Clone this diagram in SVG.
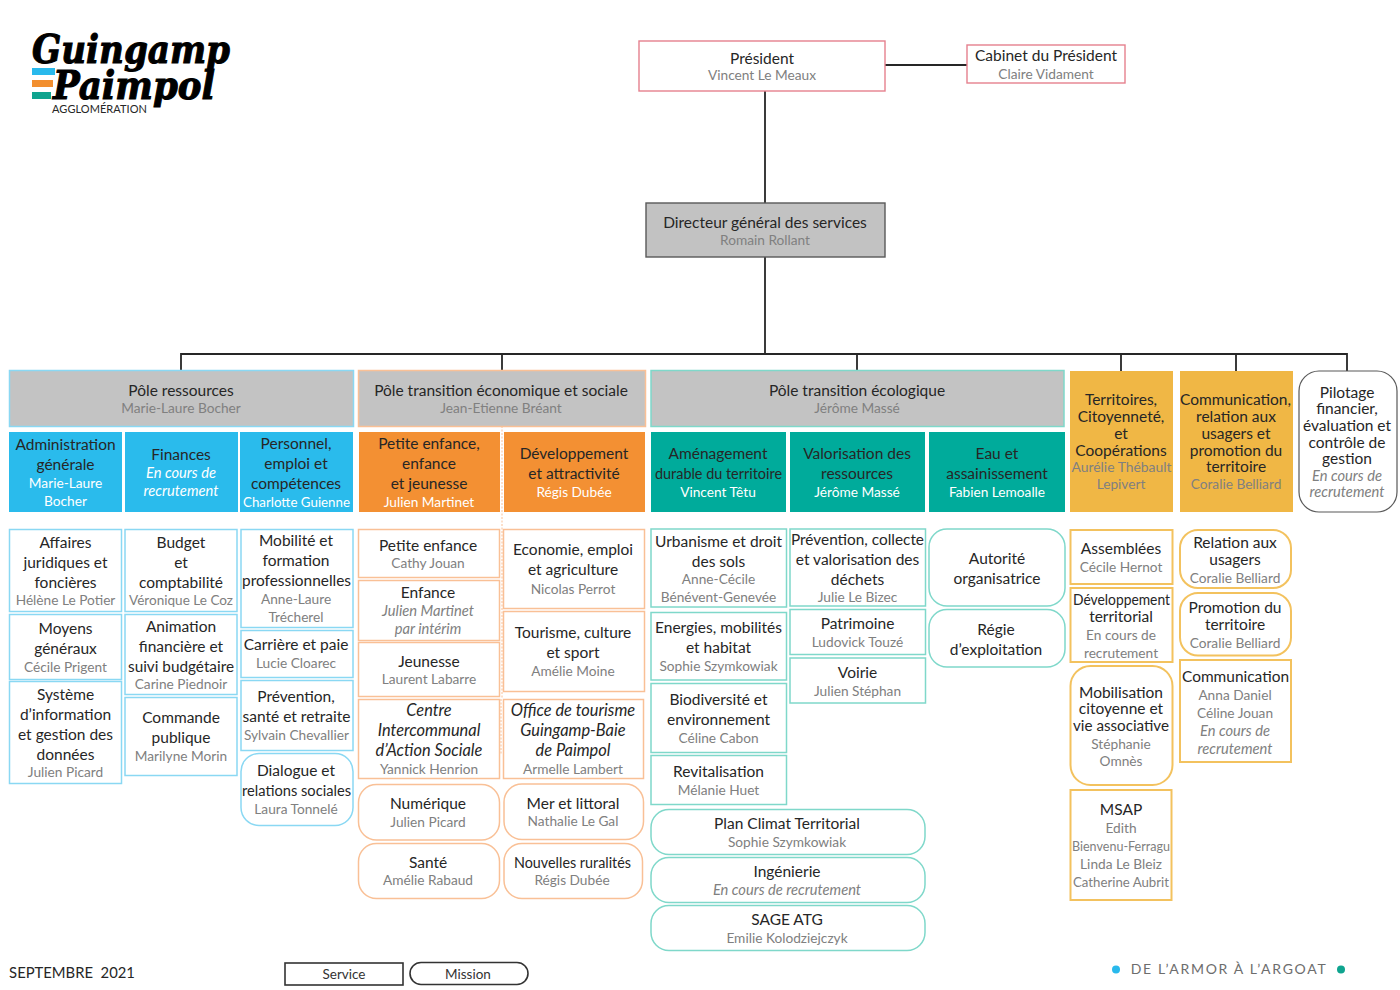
<svg xmlns="http://www.w3.org/2000/svg" width="1400" height="990" viewBox="0 0 1400 990">
<style>
text{font-family:Lato,"Liberation Sans",sans-serif;text-anchor:middle}
.t{font-size:15.5px;fill:#262626}
.s{font-size:13.7px;fill:#808080}
.w{font-size:13.7px;fill:#fff}
.i{font-style:italic}
.t.i{font-size:16.4px}
.s.i,.w.i{font-size:14.7px}
.b,.o,.g,.y{stroke-width:1.5;fill:#fff}
.b{stroke:#8ad8f3}.o{stroke:#f9c096}.g{stroke:#7fd8ca}.y{stroke:#f3c25e;stroke-width:2}
.logo{font-family:"DejaVu Serif",serif;font-weight:bold;font-style:italic;font-size:40px;fill:#000;stroke:#000;stroke-width:1.1}
.conn{stroke:#262626;stroke-width:1.8;fill:none}
</style>
<g id="logo">
<text class="logo" x="131" y="63" textLength="198" lengthAdjust="spacingAndGlyphs">Guingamp</text>
<rect x="32" y="68" width="23" height="7" fill="#29b9ec"/><rect x="32" y="80" width="21" height="7" fill="#f28f2f"/><rect x="32" y="92" width="19" height="7" fill="#0fa48f"/>
<text class="logo" x="134" y="99" textLength="162" lengthAdjust="spacingAndGlyphs">Paimpol</text>
<text x="99.500" y="113" style="font-size:11px" textLength="95" fill="#262626">AGGLOMÉRATION</text>
</g>
<g id="connectors">
<path class="conn" d="M885 65H967M765 91V203M765 257V354M181 370V354H1347V371M502 354V370M857 354V370M1121 354V371M1236 354V371"/>
<path d="M502 426V699M501 699V754" stroke="#f9c096" stroke-width="1" stroke-dasharray="2 1.5" fill="none"/>
</g>
<g id="president"><rect x="639" y="41" width="246" height="50" fill="#fff" stroke="#e5808e" stroke-width="1.4"/><text class="t" x="762" y="64">Président</text><text class="s" x="762" y="80">Vincent Le Meaux</text></g>
<g id="cabinet"><rect x="967" y="45" width="158" height="38" fill="#fff" stroke="#e5808e" stroke-width="1.4"/><text class="t" x="1046" y="61">Cabinet du Président</text><text class="s" x="1046" y="79">Claire Vidament</text></g>
<g id="dgs"><rect x="646" y="203" width="239" height="54" fill="#c2c2c2" stroke="#595959" stroke-width="1.4"/><text class="t" x="765" y="228">Directeur général des services</text><text class="s" x="765" y="245">Romain Rollant</text></g>

<g id="pole-ressources"><rect x="9.500" y="370.500" width="344" height="56" fill="#c3c3c3" stroke="#8ad8f3" stroke-width="1.500"/><text class="t" x="181" y="396">Pôle ressources</text><text class="s" x="181" y="413">Marie-Laure Bocher</text></g>
<g id="pole-eco"><rect x="358.500" y="370.500" width="287" height="56" fill="#c3c3c3" stroke="#f9c096" stroke-width="1.500"/><text class="t" x="501" y="396">Pôle transition économique et sociale</text><text class="s" x="501" y="413">Jean-Etienne Bréant</text></g>
<g id="pole-eco2"><rect x="651" y="370.500" width="413" height="56" fill="#c3c3c3" stroke="#7fd8ca" stroke-width="1.500"/><text class="t" x="857" y="396">Pôle transition écologique</text><text class="s" x="857" y="413">Jérôme Massé</text></g>

<g id="dir-admin"><rect x="9" y="432" width="113" height="80" fill="#2abbec"/><text class="t" x="65.500" y="450">Administration</text><text class="t" x="65.500" y="470">générale</text><text class="w" x="65.500" y="488">Marie-Laure</text><text class="w" x="65.500" y="506">Bocher</text></g>
<g id="dir-fin"><rect x="125" y="432" width="113" height="80" fill="#2abbec"/><text class="t" x="181" y="460">Finances</text><text class="w i" x="181" y="478">En cours de</text><text class="w i" x="181" y="496">recrutement</text></g>
<g id="dir-pers"><rect x="240" y="432" width="113" height="80" fill="#2abbec"/><text class="t" x="296" y="449">Personnel,</text><text class="t" x="296" y="469">emploi et</text><text class="t" x="296" y="489">compétences</text><text class="w" x="296.500" y="507" textLength="107" lengthAdjust="spacingAndGlyphs">Charlotte Guienne</text></g>
<g id="dir-enf"><rect x="359" y="432" width="141" height="80" fill="#f39033"/><text class="t" x="429" y="449">Petite enfance,</text><text class="t" x="429" y="469">enfance</text><text class="t" x="429" y="489">et jeunesse</text><text class="w" x="429" y="507">Julien Martinet</text></g>
<g id="dir-dev"><rect x="504" y="432" width="141" height="80" fill="#f39033"/><text class="t" x="574" y="459">Développement</text><text class="t" x="574" y="479">et attractivité</text><text class="w" x="574" y="497">Régis Dubée</text></g>
<g id="dir-amg"><rect x="651" y="432" width="135" height="80" fill="#00ab9b"/><text class="t" x="718" y="459">Aménagement</text><text class="t" x="718.500" y="479" textLength="127" lengthAdjust="spacingAndGlyphs">durable du territoire</text><text class="w" x="718" y="497">Vincent Têtu</text></g>
<g id="dir-val"><rect x="790" y="432" width="135" height="80" fill="#00ab9b"/><text class="t" x="857" y="459">Valorisation des</text><text class="t" x="857" y="479">ressources</text><text class="w" x="857" y="497">Jérôme Massé</text></g>
<g id="dir-eau"><rect x="929" y="432" width="136" height="80" fill="#00ab9b"/><text class="t" x="997" y="459">Eau et</text><text class="t" x="997" y="479">assainissement</text><text class="w" x="997" y="497">Fabien Lemoalle</text></g>
<g id="dir-terr"><rect x="1070" y="371" width="103" height="141" fill="#f0b745"/><text class="t" x="1121" y="405">Territoires,</text><text class="t" x="1121" y="422">Citoyenneté,</text><text class="t" x="1121" y="439">et</text><text class="t" x="1121" y="456">Coopérations</text><text class="s" x="1121.500" y="472" textLength="100" lengthAdjust="spacingAndGlyphs">Aurélie Thébault</text><text class="s" x="1121" y="489">Lepivert</text></g>
<g id="dir-comm"><rect x="1180" y="371" width="113" height="141" fill="#f0b745"/><text class="t" x="1235.500" y="405" textLength="111" lengthAdjust="spacingAndGlyphs">Communication,</text><text class="t" x="1236" y="422">relation aux</text><text class="t" x="1236" y="439">usagers et</text><text class="t" x="1236" y="456">promotion du</text><text class="t" x="1236" y="472">territoire</text><text class="s" x="1236" y="489">Coralie Belliard</text></g>
<g id="dir-pil"><rect x="1299" y="371" width="98" height="141" rx="20" fill="#fff" stroke="#595959" stroke-width="1.200"/><text class="t" x="1347" y="398">Pilotage</text><text class="t" x="1347" y="414">financier,</text><text class="t" x="1347" y="431">évaluation et</text><text class="t" x="1347" y="448">contrôle de</text><text class="t" x="1347" y="464">gestion</text><text class="s i" x="1347" y="481">En cours de</text><text class="s i" x="1347" y="497">recrutement</text></g>

<g id="s-affaires"><rect class="b" x="9.500" y="529.500" width="112" height="82"/><text class="t" x="65.500" y="548">Affaires</text><text class="t" x="65.500" y="568">juridiques et</text><text class="t" x="65.500" y="588">foncières</text><text class="s" x="65.500" y="605">Hélène Le Potier</text></g>
<g id="s-moyens"><rect class="b" x="9.500" y="614.500" width="112" height="65"/><text class="t" x="65.500" y="634">Moyens</text><text class="t" x="65.500" y="654">généraux</text><text class="s" x="65.500" y="672">Cécile Prigent</text></g>
<g id="s-systeme"><rect class="b" x="9.500" y="681.500" width="112" height="102"/><text class="t" x="65.500" y="700">Système</text><text class="t" x="65.500" y="720">d’information</text><text class="t" x="65.500" y="740">et gestion des</text><text class="t" x="65.500" y="760">données</text><text class="s" x="65.500" y="777">Julien Picard</text></g>
<g id="s-budget"><rect class="b" x="125" y="529.500" width="112" height="82"/><text class="t" x="181" y="548">Budget</text><text class="t" x="181" y="568">et</text><text class="t" x="181" y="588">comptabilité</text><text class="s" x="181" y="605" textLength="104" lengthAdjust="spacingAndGlyphs">Véronique Le Coz</text></g>
<g id="s-animation"><rect class="b" x="125" y="614.500" width="112" height="80"/><text class="t" x="181" y="632">Animation</text><text class="t" x="181" y="652">financière et</text><text class="t" x="181" y="672" textLength="106" lengthAdjust="spacingAndGlyphs">suivi budgétaire</text><text class="s" x="181" y="689">Carine Piednoir</text></g>
<g id="s-commande"><rect class="b" x="125" y="697.500" width="112" height="78"/><text class="t" x="181" y="723">Commande</text><text class="t" x="181" y="743">publique</text><text class="s" x="181" y="761">Marilyne Morin</text></g>
<g id="s-mobilite"><rect class="b" x="241" y="529.500" width="112" height="98"/><text class="t" x="296" y="546">Mobilité et</text><text class="t" x="296" y="566">formation</text><text class="t" x="296.500" y="586" textLength="109" lengthAdjust="spacingAndGlyphs">professionnelles</text><text class="s" x="296" y="604">Anne-Laure</text><text class="s" x="296" y="622">Trécherel</text></g>
<g id="s-carriere"><rect class="b" x="241" y="630.500" width="112" height="47"/><text class="t" x="296" y="650">Carrière et paie</text><text class="s" x="296" y="668">Lucie Cloarec</text></g>
<g id="s-prevention"><rect class="b" x="241" y="680.500" width="112" height="70"/><text class="t" x="296" y="702">Prévention,</text><text class="t" x="296.500" y="722" textLength="108" lengthAdjust="spacingAndGlyphs">santé et retraite</text><text class="s" x="296.500" y="740" textLength="105" lengthAdjust="spacingAndGlyphs">Sylvain Chevallier</text></g>
<g id="s-dialogue"><rect class="b" x="241" y="753.500" width="112" height="72" rx="18"/><text class="t" x="296" y="776">Dialogue et</text><text class="t" x="296.500" y="796" textLength="109" lengthAdjust="spacingAndGlyphs">relations sociales</text><text class="s" x="296" y="814">Laura Tonnelé</text></g>

<g id="s-petite"><rect class="o" x="358.500" y="529.500" width="141" height="48"/><text class="t" x="428" y="551">Petite enfance</text><text class="s" x="428" y="568">Cathy Jouan</text></g>
<g id="s-enfance"><rect class="o" x="358.500" y="580.500" width="141" height="60"/><text class="t" x="428" y="598">Enfance</text><text class="s i" x="428" y="616">Julien Martinet</text><text class="s i" x="428" y="634">par intérim</text></g>
<g id="s-jeunesse"><rect class="o" x="358.500" y="642.500" width="141" height="54"/><text class="t" x="429" y="667">Jeunesse</text><text class="s" x="429" y="684">Laurent Labarre</text></g>
<g id="s-centre"><rect class="o" x="358.500" y="699.500" width="141" height="79"/><text class="t i" x="429" y="716">Centre</text><text class="t i" x="429" y="736">Intercommunal</text><text class="t i" x="429" y="756">d’Action Sociale</text><text class="s" x="429" y="774">Yannick Henrion</text></g>
<g id="s-numerique"><rect class="o" x="358.500" y="784.500" width="141" height="55.500" rx="18"/><text class="t" x="428" y="809">Numérique</text><text class="s" x="428" y="827">Julien Picard</text></g>
<g id="s-sante"><rect class="o" x="358.500" y="843.500" width="141" height="55" rx="18"/><text class="t" x="428" y="868">Santé</text><text class="s" x="428" y="885">Amélie Rabaud</text></g>
<g id="s-economie"><rect class="o" x="503.500" y="529.500" width="141" height="79"/><text class="t" x="573" y="555">Economie, emploi</text><text class="t" x="573" y="575">et agriculture</text><text class="s" x="573" y="594">Nicolas Perrot</text></g>
<g id="s-tourisme"><rect class="o" x="503.500" y="611.500" width="141" height="80"/><text class="t" x="573" y="638">Tourisme, culture</text><text class="t" x="573" y="658">et sport</text><text class="s" x="573" y="676">Amélie Moine</text></g>
<g id="s-office"><rect class="o" x="503.500" y="699.500" width="140" height="79"/><text class="t i" x="573" y="716">Office de tourisme</text><text class="t i" x="573" y="736">Guingamp-Baie</text><text class="t i" x="573" y="756">de Paimpol</text><text class="s" x="573" y="774">Armelle Lambert</text></g>
<g id="s-mer"><rect class="o" x="504" y="784" width="139.500" height="55.500" rx="18"/><text class="t" x="573" y="809">Mer et littoral</text><text class="s" x="573" y="826">Nathalie Le Gal</text></g>
<g id="s-ruralites"><rect class="o" x="504" y="843.500" width="138.500" height="55" rx="18"/><text class="t" x="572.500" y="868" textLength="117" lengthAdjust="spacingAndGlyphs">Nouvelles ruralités</text><text class="s" x="572" y="885">Régis Dubée</text></g>

<g id="s-urbanisme"><rect class="g" x="651" y="529" width="135.500" height="78"/><text class="t" x="718.500" y="547">Urbanisme et droit</text><text class="t" x="718.500" y="567">des sols</text><text class="s" x="718.500" y="584">Anne-Cécile</text><text class="s" x="718.500" y="602">Bénévent-Genevée</text></g>
<g id="s-energies"><rect class="g" x="651" y="612.500" width="135.500" height="67.500"/><text class="t" x="718.500" y="633">Energies, mobilités</text><text class="t" x="718.500" y="653">et habitat</text><text class="s" x="718.500" y="671">Sophie Szymkowiak</text></g>
<g id="s-biodiv"><rect class="g" x="651" y="683.500" width="135.500" height="69"/><text class="t" x="718.500" y="705">Biodiversité et</text><text class="t" x="718.500" y="725">environnement</text><text class="s" x="718.500" y="743">Céline Cabon</text></g>
<g id="s-revit"><rect class="g" x="651" y="755.500" width="135.500" height="49"/><text class="t" x="718.500" y="777">Revitalisation</text><text class="s" x="718.500" y="795">Mélanie Huet</text></g>
<g id="s-prevcol"><rect class="g" x="790" y="529" width="135.500" height="77"/><text class="t" x="857.500" y="545" textLength="133" lengthAdjust="spacingAndGlyphs">Prévention, collecte</text><text class="t" x="857.500" y="565">et valorisation des</text><text class="t" x="857.500" y="585">déchets</text><text class="s" x="857.500" y="602">Julie Le Bizec</text></g>
<g id="s-patrimoine"><rect class="g" x="790" y="609.500" width="135.500" height="45"/><text class="t" x="857.500" y="629">Patrimoine</text><text class="s" x="857.500" y="647">Ludovick Touzé</text></g>
<g id="s-voirie"><rect class="g" x="790" y="658" width="135.500" height="45"/><text class="t" x="857.500" y="678">Voirie</text><text class="s" x="857.500" y="696">Julien Stéphan</text></g>
<g id="s-autorite"><rect class="g" x="929" y="529" width="136" height="77" rx="18"/><text class="t" x="997" y="564">Autorité</text><text class="t" x="997" y="584">organisatrice</text></g>
<g id="s-regie"><rect class="g" x="929" y="609.500" width="136" height="57.500" rx="18"/><text class="t" x="996" y="635">Régie</text><text class="t" x="996" y="655">d’exploitation</text></g>
<g id="s-plan"><rect class="g" x="651" y="809.500" width="274" height="45" rx="18"/><text class="t" x="787" y="829">Plan Climat Territorial</text><text class="s" x="787" y="847">Sophie Szymkowiak</text></g>
<g id="s-ingenierie"><rect class="g" x="651" y="857.500" width="274" height="45" rx="18"/><text class="t" x="787" y="877">Ingénierie</text><text class="s i" x="787" y="895">En cours de recrutement</text></g>
<g id="s-sage"><rect class="g" x="651" y="905.500" width="274" height="45" rx="18"/><text class="t" x="787" y="925">SAGE ATG</text><text class="s" x="787" y="943">Emilie Kolodziejczyk</text></g>

<g id="s-assemblees"><rect class="y" x="1070.500" y="530" width="102" height="54"/><text class="t" x="1121" y="554">Assemblées</text><text class="s" x="1121" y="572">Cécile Hernot</text></g>
<g id="s-devterr"><rect class="y" x="1070.500" y="588" width="102" height="74"/><text class="t" x="1121.500" y="605" textLength="97" lengthAdjust="spacingAndGlyphs">Développement</text><text class="t" x="1121" y="622">territorial</text><text class="s" x="1121" y="640">En cours de</text><text class="s" x="1121" y="658">recrutement</text></g>
<g id="s-mobcit"><rect class="y" x="1070.500" y="666" width="102" height="119" rx="20"/><text class="t" x="1121" y="698">Mobilisation</text><text class="t" x="1121" y="714">citoyenne et</text><text class="t" x="1121" y="731" textLength="96" lengthAdjust="spacingAndGlyphs">vie associative</text><text class="s" x="1121" y="749">Stéphanie</text><text class="s" x="1121" y="766">Omnès</text></g>
<g id="s-msap"><rect class="y" x="1070.500" y="790" width="101" height="110"/><text class="t" x="1121" y="815">MSAP</text><text class="s" x="1121" y="833">Edith</text><text class="s" x="1121" y="851" textLength="98" lengthAdjust="spacingAndGlyphs">Bienvenu-Ferragu</text><text class="s" x="1121" y="869">Linda Le Bleiz</text><text class="s" x="1121" y="887" textLength="96" lengthAdjust="spacingAndGlyphs">Catherine Aubrit</text></g>
<g id="s-relation"><rect class="y" x="1180" y="530" width="111" height="58" rx="18"/><text class="t" x="1235" y="548">Relation aux</text><text class="t" x="1235" y="565">usagers</text><text class="s" x="1235" y="583">Coralie Belliard</text></g>
<g id="s-promotion"><rect class="y" x="1180" y="593" width="111" height="62.500" rx="18"/><text class="t" x="1235" y="613">Promotion du</text><text class="t" x="1235" y="630">territoire</text><text class="s" x="1235" y="648">Coralie Belliard</text></g>
<g id="s-communication"><rect class="y" x="1180" y="660" width="111" height="102"/><text class="t" x="1235.500" y="682" textLength="107" lengthAdjust="spacingAndGlyphs">Communication</text><text class="s" x="1235" y="700">Anna Daniel</text><text class="s" x="1235" y="718">Céline Jouan</text><text class="s i" x="1235" y="736">En cours de</text><text class="s i" x="1235" y="754">recrutement</text></g>

<g id="date"><text x="72" y="978" style="font-size:14.800px;white-space:pre" fill="#262626">SEPTEMBRE  2021</text></g>
<g id="legend-service"><rect x="285" y="963" width="118" height="22" fill="#fff" stroke="#333" stroke-width="1.600"/><text x="344" y="979" style="font-size:13.500px" fill="#333">Service</text></g>
<g id="legend-mission"><rect x="410" y="962.500" width="118" height="22" rx="11" fill="#fff" stroke="#333" stroke-width="1.600"/><text x="468" y="979" style="font-size:13.500px" fill="#333">Mission</text></g>
<g id="tagline"><circle cx="1116" cy="969.500" r="4" fill="#29b9ec"/><text x="1229" y="974" style="font-size:14px;letter-spacing:1.700px" fill="#6d6d6d">DE L’ARMOR À L’ARGOAT</text><circle cx="1341" cy="969.500" r="4" fill="#0fa48f"/></g>
</svg>
